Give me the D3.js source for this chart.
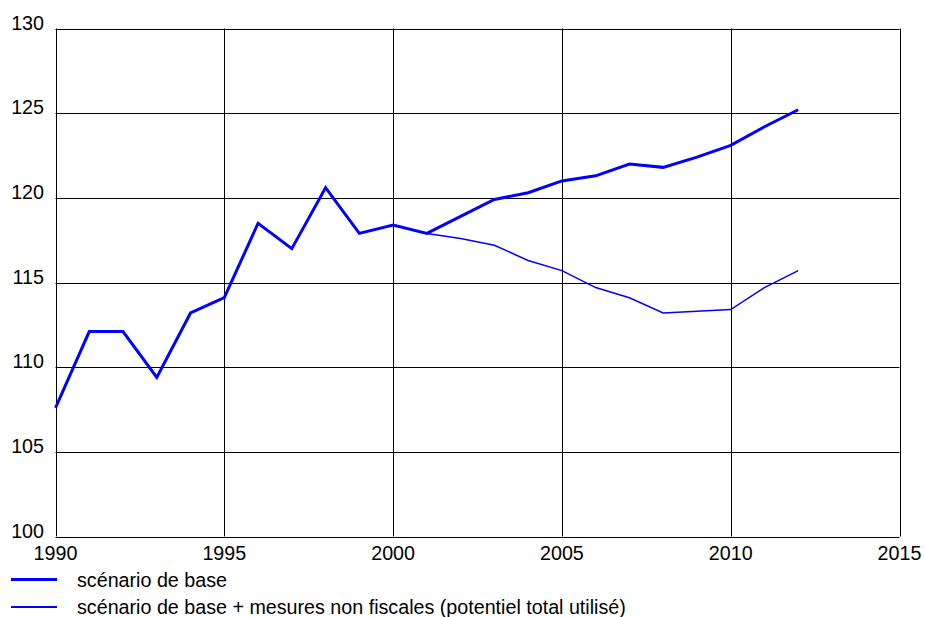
<!DOCTYPE html>
<html>
<head>
<meta charset="utf-8">
<script src="https://cdn.jsdelivr.net/npm/d3@7/dist/d3.min.js"></script>
<style>
  body { margin: 0; background: #fff; }
  text { font-family: "Liberation Sans", Arial, Helvetica, sans-serif; fill: #000; }
</style>
</head>
<body>
<svg width="925" height="617"></svg>
<script>
// données
var years = [1990, 1991, 1992, 1993, 1994, 1995, 1996, 1997, 1998, 1999, 2000, 2001,
             2002, 2003, 2004, 2005, 2006, 2007, 2008, 2009, 2010, 2011, 2012];
var base = [107.6, 112.1, 112.1, 109.4, 113.2, 114.1, 118.5, 117.0, 120.6, 117.9, 118.4, 117.9,
            118.9, 119.9, 120.3, 121.0, 121.3, 122.0, 121.8, 122.4, 123.1, 124.2, 125.2];
var yearsMesures = [2001, 2002, 2003, 2004, 2005, 2006, 2007, 2008, 2009, 2010, 2011, 2012];
var mesures = [117.9, 117.6, 117.2, 116.3, 115.7, 114.7, 114.1, 113.2, 113.3, 113.4, 114.7, 115.7];
var xTicks = [1990, 1995, 2000, 2005, 2010, 2015];
var yTicks = [100, 105, 110, 115, 120, 125, 130];
var legendLabels = ["scénario de base", "scénario de base + mesures non fiscales (potentiel total utilisé)"];

var svg = d3.select("svg");
var mLeft = 55.5, mRight = 899.5, mTop = 28.5, mBottom = 536.5;
var fs = 19.7;

var x = d3.scaleLinear().domain([1990, 2015]).range([mLeft, mRight]);
var y = d3.scaleLinear().domain([100, 130]).range([mBottom, mTop]);

// grille
var grid = svg.append("g").attr("stroke", "#000").attr("stroke-width", 1);
grid.selectAll(".v").data(xTicks).enter().append("line")
    .attr("x1", function(d) { return Math.round(x(d)) + 0.5; })
    .attr("x2", function(d) { return Math.round(x(d)) + 0.5; })
    .attr("y1", mTop).attr("y2", mBottom);
grid.selectAll(".h").data(yTicks).enter().append("line")
    .attr("y1", function(d) { return Math.round(y(d)) + 0.5; })
    .attr("y2", function(d) { return Math.round(y(d)) + 0.5; })
    .attr("x1", mLeft).attr("x2", mRight);

// axes (étiquettes seulement)
svg.append("g").selectAll("text").data(yTicks).enter().append("text")
    .attr("x", 44).attr("y", function(d) { return y(d) + 1; })
    .attr("text-anchor", "end").attr("font-size", fs)
    .text(function(d) { return d; });
svg.append("g").selectAll("text").data(xTicks).enter().append("text")
    .attr("x", function(d) { return x(d); }).attr("y", 560)
    .attr("text-anchor", "middle").attr("font-size", fs)
    .text(function(d) { return d; });

// courbes
var line = d3.line()
    .x(function(d) { return x(d[0]); })
    .y(function(d) { return y(d[1]); });

svg.append("path")
    .datum(d3.zip(yearsMesures, mesures))
    .attr("fill", "none").attr("stroke", "#0000ff").attr("stroke-width", 1.5)
    .attr("d", line);
svg.append("path")
    .datum(d3.zip(years, base))
    .attr("fill", "none").attr("stroke", "#0000ff").attr("stroke-width", 3)
    .attr("d", line);

// légende
var leg = svg.append("g");
var widths = [3.2, 1.8];
legendLabels.forEach(function(t, i) {
  var ly = 579.5 + i * 27.5;
  leg.append("line").attr("x1", 11).attr("x2", 57).attr("y1", ly).attr("y2", ly)
     .attr("stroke", "#0000ff").attr("stroke-width", widths[i]);
  leg.append("text").attr("x", 77).attr("y", ly + 7).attr("font-size", fs).text(t);
});
</script>
</body>
</html>
